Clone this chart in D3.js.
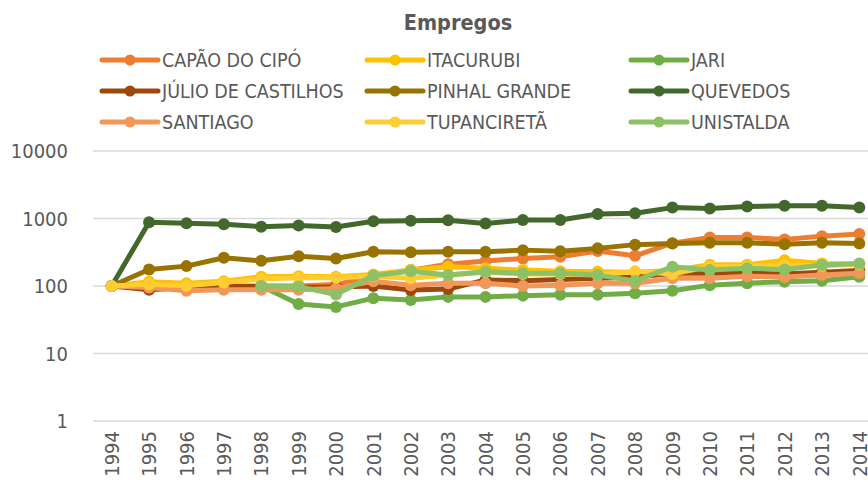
<!DOCTYPE html>
<html>
<head>
<meta charset="utf-8">
<script src="https://cdn.jsdelivr.net/npm/d3@7"></script>
<style>
  body { margin: 0; background: #fff; }
  text { fill: #595959; }
</style>
</head>
<body>
<script>
// data (log scale, 1994 = 100 for most series)
const years = ["1994","1995","1996","1997","1998","1999","2000","2001","2002","2003","2004",
  "2005","2006","2007","2008","2009","2010","2011","2012","2013","2014"];
const yTicks = [1, 10, 100, 1000, 10000];

const capao = [100,105,95,100,100,100,105,140,172,210,235,256,271,330,280,430,524,524,489,548,587];
const itacurubi = [100,116,110,118,137,140,137,148,172,193,183,172,166,163,160,170,207,207,240,216,210];
const jari = [null,null,null,null,100,54,49,66,62,69,69,72,74,74,78,85,103,110,116,120,137];
const julio = [100,88,95,98,98,95,97,100,87,90,123,120,125,130,135,154,154,155,150,160,170];
const pinhal = [100,176,197,262,236,275,256,321,315,321,321,340,328,361,410,425,436,436,417,436,427];
const quevedos = [100,879,849,820,756,790,748,909,928,940,840,950,950,1166,1194,1450,1410,1500,1540,1550,1450];
const santiago = [100,95,85,88,88,88,92,118,103,110,110,100,103,110,110,130,130,140,136,145,154];
const tupancireta = [100,106,101,113,127,133,133,140,130,145,160,150,150,145,165,150,195,195,205,200,210];
const unistalda = [null,null,null,null,100,98,75,142,166,145,163,154,154,145,119,193,172,183,176,204,215];

const seriesNames = ["CAPÃO DO CIPÓ","ITACURUBI","JARI","JÚLIO DE CASTILHOS","PINHAL GRANDE",
  "QUEVEDOS","SANTIAGO","TUPANCIRETÃ","UNISTALDA"];
const seriesValues = [capao, itacurubi, jari, julio, pinhal, quevedos, santiago, tupancireta, unistalda];
const colors = ["#ED7D31","#FFC000","#70AD47","#9E480E","#997300","#43682B","#F1975A","#FFCD33","#8CC168"];

const width = 868, height = 484;
const font = "'DejaVu Sans Condensed', 'DejaVu Sans', sans-serif";

const svg = d3.select("body").append("svg")
  .attr("width", width)
  .attr("height", height)
  .style("font-family", font);

const x = d3.scalePoint().domain(years).range([93, 878]).padding(0.5);
const y = d3.scaleLog().domain([1, 10000]).range([421, 151]);

// title
svg.append("text")
  .attr("x", 458).attr("y", 30)
  .attr("text-anchor", "middle")
  .style("font-size", "21.5px")
  .style("font-weight", "bold")
  .text("Empregos");

// legend, 3 columns
const legendCols = [102, 367, 631];
const legendRows = [60, 91, 122];
seriesNames.forEach((name, i) => {
  const lx = legendCols[i % 3], ly = legendRows[Math.floor(i / 3)];
  const g = svg.append("g").attr("transform", `translate(${lx},${ly})`);
  g.append("line")
    .attr("x1", 0).attr("x2", 56).attr("y1", 0).attr("y2", 0)
    .attr("stroke", colors[i]).attr("stroke-width", 5)
    .attr("stroke-linecap", "round");
  g.append("circle").attr("cx", 28).attr("cy", 0).attr("r", 5.5).attr("fill", colors[i]);
  g.append("text")
    .attr("x", 60).attr("y", 0).attr("dy", "0.36em")
    .style("font-size", "19.5px")
    .text(name);
});

// gridlines + y labels
svg.append("g").selectAll("line")
  .data(yTicks).enter().append("line")
  .attr("x1", 93).attr("x2", width)
  .attr("y1", d => y(d)).attr("y2", d => y(d))
  .attr("stroke", "#D9D9D9").attr("stroke-width", 1.3);

svg.append("g").selectAll("text")
  .data(yTicks).enter().append("text")
  .attr("x", 68).attr("y", d => y(d)).attr("dy", "0.36em")
  .attr("text-anchor", "end")
  .style("font-size", "20px")
  .text(d => d);

// year labels, rotated
svg.append("g").selectAll("text")
  .data(years).enter().append("text")
  .attr("transform", d => `translate(${x(d)},431) rotate(-90)`)
  .attr("dy", "0.36em")
  .attr("text-anchor", "end")
  .style("font-size", "20px")
  .text(d => d);

// series: line then markers, in order
const line = d3.line()
  .defined(d => d.v != null)
  .x(d => x(d.year))
  .y(d => y(d.v));

seriesValues.forEach((vals, i) => {
  const pts = vals.map((v, j) => ({ year: years[j], v: v }));
  svg.append("path")
    .datum(pts)
    .attr("fill", "none")
    .attr("stroke", colors[i])
    .attr("stroke-width", 5)
    .attr("stroke-linejoin", "round")
    .attr("d", line);
  svg.append("g").selectAll("circle")
    .data(pts.filter(d => d.v != null)).enter().append("circle")
    .attr("cx", d => x(d.year))
    .attr("cy", d => y(d.v))
    .attr("r", 6)
    .attr("fill", colors[i]);
});
</script>
</body>
</html>
